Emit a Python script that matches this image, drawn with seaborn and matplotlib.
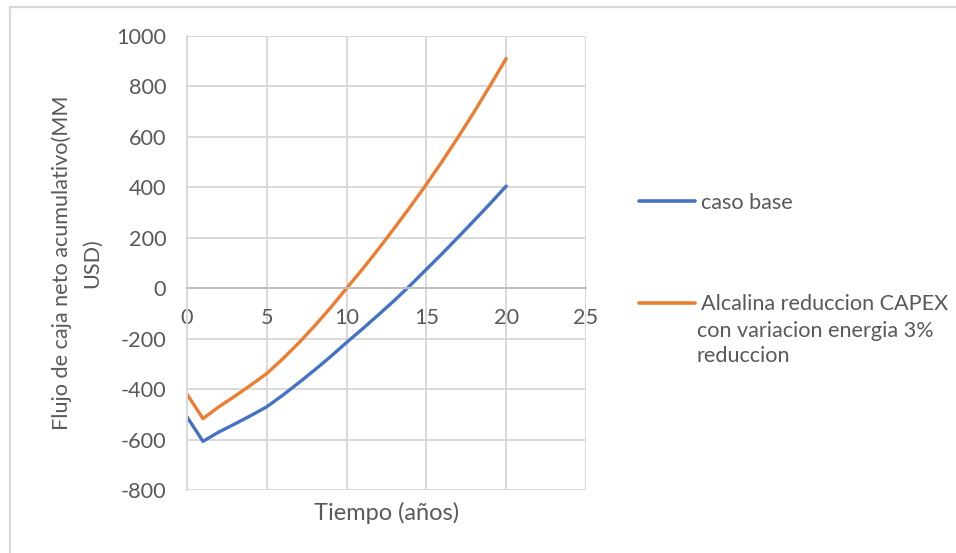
import numpy as np
import pandas as pd
import seaborn as sns
import matplotlib
matplotlib.use("Agg")
import matplotlib.pyplot as plt
from matplotlib.lines import Line2D

# Cumulative net cash flow (MM USD) per project year
years = list(range(0, 21))
caso_base = [-510, -607, -570, -538, -505, -470, -424, -375, -324, -271, -215,
             -161, -105, -48, 12, 75, 138, 203, 269, 336, 405]
alcalina = [-420, -517, -470, -428, -384, -338, -280, -217, -149, -77, 0,
            76, 156, 239, 324, 412, 504, 600, 700, 804, 911]

series_names = ["caso base",
                "Alcalina reduccion CAPEX\ncon variacion energia 3%\nreduccion"]
series_colors = ["#4472C4", "#ED7D31"]

x_ticks = [0, 5, 10, 15, 20, 25]
y_ticks = [-800, -600, -400, -200, 0, 200, 400, 600, 800, 1000]

df = pd.DataFrame({
    "Tiempo": years * 2,
    "Flujo": caso_base + alcalina,
    "Serie": [series_names[0]] * len(years) + [series_names[1]] * len(years),
})

sns.set_theme(style="white")
plt.rcParams["font.family"] = ["Lato", "DejaVu Sans"]
plt.rcParams["axes.unicode_minus"] = False
text_color = "#595959"
grid_color = "#d9d9d9"
fs = 15.6

W, H = 956, 553
fig = plt.figure(figsize=(W / 100, H / 100), dpi=100)
ax = fig.add_axes([187 / W, 1 - 490 / H, (586 - 187) / W, (490 - 36) / H])

sns.lineplot(data=df, x="Tiempo", y="Flujo", hue="Serie",
             palette=dict(zip(series_names, series_colors)),
             linewidth=2.4, legend=False, ax=ax,
             estimator=None, sort=True)
for ln in ax.lines:
    ln.set_solid_capstyle("round")
    ln.set_solid_joinstyle("round")

ax.set_xlim(0, 25)
ax.set_ylim(-800, 1000)
ax.set_xticks(x_ticks)
ax.set_yticks(y_ticks)
ax.grid(True, color=grid_color, linewidth=1.4)
ax.set_axisbelow(True)

for side in ["top", "right"]:
    ax.spines[side].set_visible(False)
ax.spines["left"].set_color(grid_color)
ax.spines["left"].set_linewidth(1.4)
ax.spines["bottom"].set_position(("data", 0))
ax.spines["bottom"].set_color("#bfbfbf")
ax.spines["bottom"].set_linewidth(1.4)

ax.tick_params(axis="x", length=0, pad=14.5, labelsize=fs, labelcolor=text_color)
ax.tick_params(axis="y", length=0, pad=15, labelsize=fs, labelcolor=text_color)

ax.set_xlabel("Tiempo (años)", fontsize=17, color=text_color)
ax.xaxis.set_label_coords(0.5, -0.05)
ax.xaxis.label.set_va("center")
ax.set_ylabel("Flujo de caja neto acumulativo(MM\nUSD)", fontsize=fs,
              color=text_color, linespacing=1.65)
ax.yaxis.set_label_coords((77 - 187) / (586 - 187), 0.5)
ax.yaxis.label.set_va("center")

# Legend on the right
handles = [Line2D([], [], color=c, linewidth=2.6) for c in series_colors]
label_lines = series_names[1].split("\n")
fig.legend(handles, [series_names[0], label_lines[0]],
           loc="upper left", bbox_to_anchor=(639 / W, 1 - 193 / H),
           frameon=False, fontsize=fs, labelcolor=text_color,
           handlelength=2.6, handletextpad=0.25, labelspacing=3.75,
           borderaxespad=0, borderpad=0)
for i, line in enumerate(label_lines[1:]):
    fig.text(697 / W, 1 - (331 + 25.5 * i) / H, line,
             fontsize=fs, color=text_color, ha="left", va="center")

# Chart area border
fig.add_artist(Line2D([9.5 / W, 1], [1 - 6.5 / H, 1 - 6.5 / H],
                      color=grid_color, linewidth=1.6))
fig.add_artist(Line2D([9.5 / W, 9.5 / W], [0, 1 - 6.5 / H],
                      color=grid_color, linewidth=1.6))

fig.savefig("out.png", dpi=100, facecolor="white")
